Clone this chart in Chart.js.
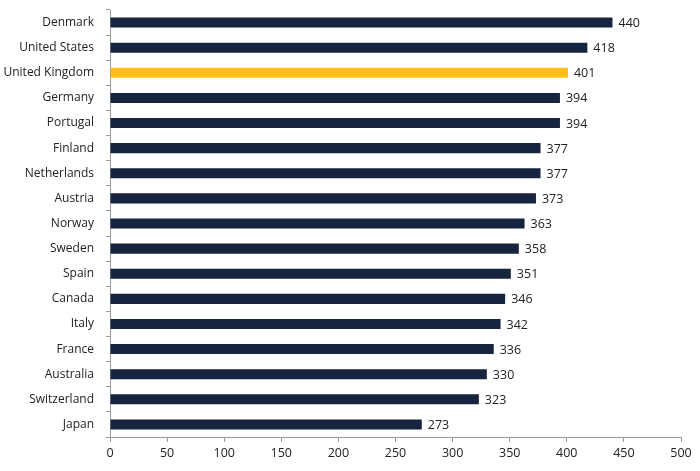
<!DOCTYPE html>
<html>
<head>
<meta charset="utf-8">
<script src="https://cdn.jsdelivr.net/npm/chart.js@4/dist/chart.umd.min.js"></script>
<style>
html,body{margin:0;padding:0;background:#fff;}
#wrap{width:700px;height:471px;position:relative;}
</style>
</head>
<body>
<div id="wrap"><canvas id="c" width="700" height="471"></canvas></div>
<script>
const categories = ["Denmark","United States","United Kingdom","Germany","Portugal","Finland","Netherlands","Austria","Norway","Sweden","Spain","Canada","Italy","France","Australia","Switzerland","Japan"];
const values = [440,418,401,394,394,377,377,373,363,358,351,346,342,336,330,323,273];
const highlight = "United Kingdom";
const xTicks = [0,50,100,150,200,250,300,350,400,450,500];

const navy = "#16243f";
const gold = "#fdbe16";
const colors = categories.map(c => c === highlight ? gold : navy);
const FONT = "'Open Sans', 'Liberation Sans', sans-serif";

const labelPlugin = {
  id: 'valueLabels',
  afterDatasetsDraw(chart) {
    const ctx = chart.ctx;
    const meta = chart.getDatasetMeta(0);
    ctx.save();
    ctx.font = "12.5px " + FONT;
    ctx.fillStyle = "#222";
    ctx.textAlign = "left";
    ctx.textBaseline = "middle";
    meta.data.forEach((bar, i) => {
      ctx.fillText(String(values[i]), bar.x + 6, bar.y + 1);
    });
    ctx.restore();
  }
};

new Chart(document.getElementById('c'), {
  type: 'bar',
  data: {
    labels: categories,
    datasets: [{
      data: values,
      backgroundColor: colors,
      borderWidth: 0,
      barPercentage: 0.4,
      categoryPercentage: 1.0
    }]
  },
  options: {
    indexAxis: 'y',
    responsive: false,
    animation: false,
    layout: { padding: { top: 10, right: 19, left: 0, bottom: 0 } },
    plugins: { legend: { display: false }, tooltip: { enabled: false } },
    scales: {
      x: {
        min: 0, max: 500,
        afterBuildTicks(scale) { scale.ticks = xTicks.map(v => ({ value: v })); },
        afterFit(scale) { scale.height = 34; scale.paddingLeft = 0; scale.paddingRight = 0; },
        border: { display: true, color: "#9a9a9a", width: 1 },
        grid: { drawOnChartArea: false, drawTicks: true, tickLength: 5, color: "#9a9a9a" },
        ticks: { color: "#222", font: { size: 12.5, family: FONT }, padding: 4, maxRotation: 0 }
      },
      y: {
        afterFit(scale) { scale.width = 110; scale.paddingTop = 0; scale.paddingBottom = 0; },
        border: { display: true, color: "#9a9a9a", width: 1 },
        grid: { drawOnChartArea: false, drawTicks: true, tickLength: 4, color: "#9a9a9a", offset: true },
        ticks: { color: "#222", font: { size: 12, family: FONT }, padding: 12, autoSkip: false }
      }
    }
  },
  plugins: [labelPlugin]
});
</script>
</body>
</html>
